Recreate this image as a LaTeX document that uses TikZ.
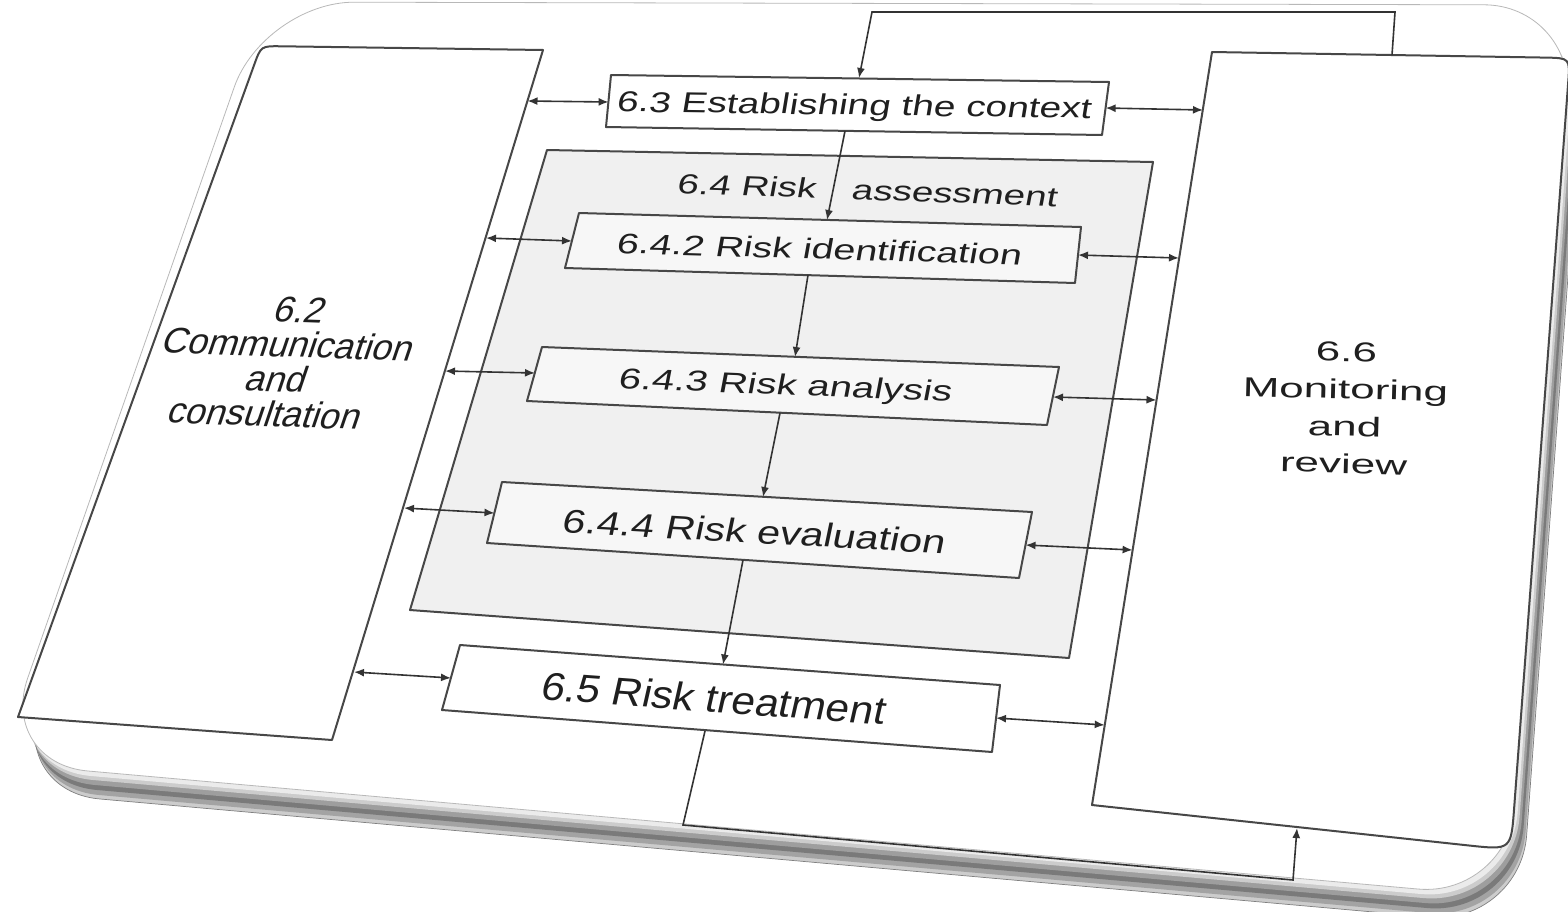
\documentclass[tikz,border=0pt]{standalone}
\usepackage{fontspec}
\setmainfont{Liberation Sans}
\usetikzlibrary{arrows.meta,calc}
\begin{document}
\begin{tikzpicture}[x=1pt,y=-1pt,
  boxline/.style={draw=black!72,line width=2pt,line join=round},
  conn/.style={draw=black!80,line width=1.6pt},
  biarrow/.style={conn,{Latex[length=10pt,width=8pt]}-{Latex[length=10pt,width=8pt]}},
  onearrow/.style={conn,-{Latex[length=10pt,width=8pt]}},
  lbl/.style={inner sep=0pt,text=black!88,anchor=base},
  panellbl/.style={inner sep=0pt,text=black!88,anchor=center,align=center},
]
\useasboundingbox (0,0) rectangle (1568,911);

% ---------- card (tile) with its thickness ----------
\coordinate (cA) at (264,2);
\coordinate (cB) at (1574,5);
\coordinate (cC) at (1508,897);
\coordinate (cD) at (-2,763);
\foreach \dx/\dy/\c in {12/28/black!20,11/24/black!36,9/19/black!52,7/14/black!38,5/9/black!20,3/5/black!8}{
  \fill[\c,rounded corners=90pt] ($(cA)+(\dx,\dy)$) -- ($(cB)+(\dx,\dy)$) -- ($(cC)+(\dx,\dy)$) -- ($(cD)+(\dx,\dy)$) -- cycle;
}
\draw[black!50,line width=0.7pt,rounded corners=90pt] ($(cA)+(12,28)$) -- ($(cB)+(12,28)$) -- ($(cC)+(12,28)$) -- ($(cD)+(12,28)$) -- cycle;
\filldraw[fill=white,draw=black!28,line width=0.8pt,rounded corners=90pt] (cA) -- (cB) -- (cC) -- (cD) -- cycle;

% ---------- 6.2 panel ----------
\coordinate (lpA) at (543,50);
\coordinate (lpB) at (261,46);
\coordinate (lpC) at (18,717);
\coordinate (lpD) at (332,740);
\filldraw[boxline,fill=white] (lpA) -- ($(lpB)!20pt!(lpA)$) .. controls (lpB) .. ($(lpB)!20pt!(lpC)$) -- (lpC) -- (lpD) -- cycle;

% ---------- 6.6 panel ----------
\coordinate (rpA) at (1212,52);
\coordinate (rpB) at (1570,58);
\coordinate (rpC) at (1511,850);
\coordinate (rpD) at (1092,805);
\filldraw[boxline,fill=white] (rpA) -- ($(rpB)!25pt!(rpA)$) .. controls (rpB) .. ($(rpB)!25pt!(rpC)$) -- ($(rpC)!42pt!(rpB)$) .. controls (rpC) .. ($(rpC)!42pt!(rpD)$) -- (rpD) -- cycle;

% ---------- 6.4 risk assessment frame ----------
\coordinate (b4a) at (547,150);
\coordinate (b4b) at (1153,162);
\coordinate (b4c) at (1069,658);
\coordinate (b4d) at (410,610);
\filldraw[boxline,fill=black!6] (b4a) -- (b4b) -- (b4c) -- (b4d) -- cycle;

% ---------- process boxes ----------
\coordinate (b3a) at (611,75);   \coordinate (b3b) at (1109,82);
\coordinate (b3c) at (1102,135); \coordinate (b3d) at (606,127);
\filldraw[boxline,fill=white] (b3a) -- (b3b) -- (b3c) -- (b3d) -- cycle;

\coordinate (b42a) at (579,213);  \coordinate (b42b) at (1081,227);
\coordinate (b42c) at (1075,283); \coordinate (b42d) at (565,268);
\filldraw[boxline,fill=black!3] (b42a) -- (b42b) -- (b42c) -- (b42d) -- cycle;

\coordinate (b43a) at (542,347);  \coordinate (b43b) at (1059,367);
\coordinate (b43c) at (1047,425); \coordinate (b43d) at (527,401);
\filldraw[boxline,fill=black!3] (b43a) -- (b43b) -- (b43c) -- (b43d) -- cycle;

\coordinate (b44a) at (502,482);  \coordinate (b44b) at (1032,512);
\coordinate (b44c) at (1019,578); \coordinate (b44d) at (487,543);
\filldraw[boxline,fill=black!3] (b44a) -- (b44b) -- (b44c) -- (b44d) -- cycle;

\coordinate (b5a) at (460,645);  \coordinate (b5b) at (1000,685);
\coordinate (b5c) at (992,752);  \coordinate (b5d) at (442,710);
\filldraw[boxline,fill=white] (b5a) -- (b5b) -- (b5c) -- (b5d) -- cycle;

% ---------- connectors to 6.2 ----------
\coordinate (L3a) at (527.5,101);  \coordinate (L3b) at (608.6,102);
\coordinate (L42a) at (486,238);   \coordinate (L42b) at (572,241);
\coordinate (L43a) at (445,371);   \coordinate (L43b) at (535,373);
\coordinate (L44a) at (404,508);   \coordinate (L44b) at (494.5,513);
\coordinate (L5a) at (354,672);    \coordinate (L5b) at (451,678);
\draw[biarrow] (L3a) -- (L3b);
\draw[biarrow] (L42a) -- (L42b);
\draw[biarrow] (L43a) -- (L43b);
\draw[biarrow] (L44a) -- (L44b);
\draw[biarrow] (L5a) -- (L5b);

% ---------- connectors to 6.6 ----------
\coordinate (R3a) at (1105.6,108);  \coordinate (R3b) at (1203,110);
\coordinate (R42a) at (1078,255);   \coordinate (R42b) at (1179,258);
\coordinate (R43a) at (1053,397);   \coordinate (R43b) at (1156.5,400);
\coordinate (R44a) at (1025.5,545); \coordinate (R44b) at (1132.6,550);
\coordinate (R5a) at (996,718);     \coordinate (R5b) at (1104.7,725);
\draw[biarrow] (R3a) -- (R3b);
\draw[biarrow] (R42a) -- (R42b);
\draw[biarrow] (R43a) -- (R43b);
\draw[biarrow] (R44a) -- (R44b);
\draw[biarrow] (R5a) -- (R5b);

% ---------- main flow ----------
\coordinate (D1a) at (845,131); \coordinate (D1b) at (827,220);
\coordinate (D2a) at (808,275); \coordinate (D2b) at (795,357);
\coordinate (D3a) at (780,413); \coordinate (D3b) at (763,497);
\coordinate (D4a) at (743,560); \coordinate (D4b) at (723,664.5);
\draw[onearrow] (D1a) -- (D1b);
\draw[onearrow] (D2a) -- (D2b);
\draw[onearrow] (D3a) -- (D3b);
\draw[onearrow] (D4a) -- (D4b);

% ---------- feedback loops ----------
\coordinate (fT1) at (1392,55); \coordinate (fT2) at (1395,12);
\coordinate (fT3) at (872,12);  \coordinate (fT4) at (859,78);
\draw[onearrow] (fT1) -- (fT2) -- (fT3) -- (fT4);
\coordinate (fB1) at (705,731); \coordinate (fB2) at (683,825);
\coordinate (fB3) at (1293,880); \coordinate (fB4) at (1297,828);
\draw[onearrow] (fB1) -- (fB2) -- (fB3) -- (fB4);

% ---------- labels ----------
\node[lbl,rotate=-0.8,xslant=0.15,yscale=0.74,font=\fontsize{38.8}{40}\selectfont] (t63) at (853,115) {6.3 Establishing the context};
\node[lbl,rotate=-2,xslant=0.15,yscale=0.72,font=\fontsize{38.5}{40}\selectfont] (t64) at (866,200) {6.4 Risk\hspace*{25pt} assessment};
\node[lbl,rotate=-1.6,xslant=0.15,yscale=0.72,font=\fontsize{39.4}{40}\selectfont] (t642) at (818,259) {6.4.2 Risk identification};
\node[lbl,rotate=-2.3,xslant=0.15,yscale=0.72,font=\fontsize{40}{40}\selectfont] (t643) at (784,395) {6.4.3 Risk analysis};
\node[lbl,rotate=-3.2,xslant=0.15,yscale=0.8,font=\fontsize{41.3}{42}\selectfont] (t644) at (752,543) {6.4.4 Risk evaluation};
\node[lbl,rotate=-4.2,xslant=0.15,yscale=0.92,font=\fontsize{42.5}{44}\selectfont] (t65) at (711,712) {6.5 Risk treatment};
\node[panellbl,rotate=-2,xslant=0.3,font=\fontsize{36}{35}\selectfont] (t62) at (283,362) {6.2\\Communication\\and\\consultation};
\node[panellbl,rotate=-1.5,yscale=0.62,font=\fontsize{44}{60}\selectfont] (t66) at (1345,408) {6.6\\Monitoring\\and\\review};
\end{tikzpicture}
\end{document}
